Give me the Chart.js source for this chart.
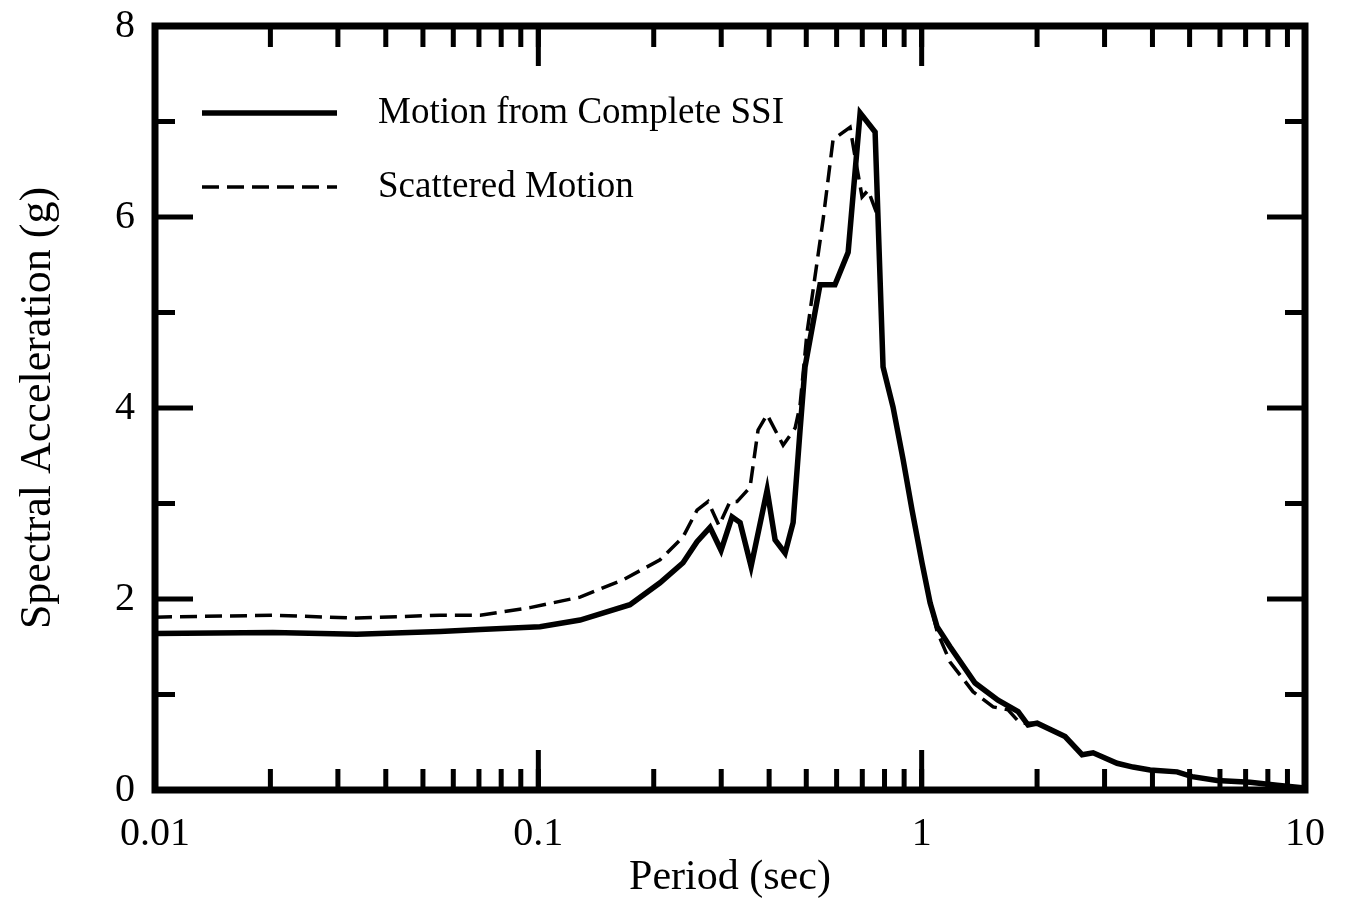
<!DOCTYPE html>
<html>
<head>
<meta charset="utf-8">
<script src="https://cdn.jsdelivr.net/npm/chart.js@4"></script>
<style>
  html, body { margin: 0; padding: 0; background: #ffffff; }
  canvas { display: block; }
</style>
</head>
<body>
<canvas id="chart" width="1346" height="905"></canvas>
<script>
// periods (sec) and spectral acceleration (g)
const solidPeriod = [0.01, 0.0203, 0.0336, 0.0554, 0.0705, 0.101, 0.1285, 0.1734, 0.2077, 0.2385,
  0.2594, 0.2805, 0.2997, 0.3201, 0.336, 0.3589, 0.3952, 0.4146, 0.4403, 0.462,
  0.4817, 0.4963, 0.543, 0.594, 0.643, 0.691, 0.756, 0.793, 0.842, 0.8945,
  0.944, 1.002, 1.052, 1.097, 1.186, 1.378, 1.582, 1.785, 1.895, 2.001,
  2.367, 2.621, 2.801, 3.234, 3.56, 3.944, 4.637, 5.077, 5.899, 7.193, 8.456, 10];
const solidSa = [1.64, 1.65, 1.63, 1.66, 1.68, 1.71, 1.78, 1.94, 2.17, 2.38,
  2.60, 2.75, 2.51, 2.86, 2.80, 2.34, 3.14, 2.62, 2.48, 2.80,
  3.77, 4.43, 5.29, 5.29, 5.63, 7.09, 6.89, 4.43, 4.01, 3.46,
  2.93, 2.38, 1.96, 1.71, 1.50, 1.12, 0.94, 0.82, 0.68, 0.70,
  0.56, 0.37, 0.39, 0.28, 0.24, 0.21, 0.19, 0.14, 0.10, 0.08, 0.05, 0.02];

const scatPeriod = [0.01, 0.0203, 0.0336, 0.0554, 0.0705, 0.0951, 0.1285, 0.1663, 0.2077, 0.2385,
  0.2594, 0.2772, 0.296, 0.3163, 0.3299, 0.3567, 0.3743, 0.3952, 0.4351, 0.4676,
  0.4817, 0.5023, 0.5531, 0.5873, 0.6504, 0.6703, 0.6991, 0.7248, 0.77, 0.793,
  0.842, 0.8945, 0.944, 1.002, 1.052, 1.097, 1.186, 1.361, 1.536, 1.68, 1.806, 2.001];
const scatSa = [1.81, 1.83, 1.80, 1.83, 1.83, 1.91, 2.02, 2.20, 2.41, 2.65,
  2.93, 3.02, 2.77, 3.02, 3.02, 3.17, 3.77, 3.93, 3.61, 3.79,
  4.03, 4.79, 5.97, 6.81, 6.94, 6.63, 6.21, 6.28, 6.0, 4.43,
  4.01, 3.46, 2.93, 2.38, 1.96, 1.66, 1.34, 1.03, 0.87, 0.84, 0.70, 0.70];

const seriesNames = ["Motion from Complete SSI", "Scattered Motion"];
const xTickValues = [0.01, 0.1, 1, 10];
const yTickValues = [0, 2, 4, 6, 8];

const FONT = "'Liberation Serif', 'Times New Roman', serif";
const toPoints = (xs, ys) => xs.map((x, i) => ({ x, y: ys[i] }));

// frame, inward ticks on all four sides, and the legend inside the plot
const framePlugin = {
  id: "frame",
  afterDatasetsDraw(chart) {
    const { ctx, chartArea: a, scales } = chart;
    const xs = scales.x, ys = scales.y;
    ctx.save();
    ctx.strokeStyle = "#000";
    ctx.lineCap = "butt";

    ctx.lineWidth = 5;
    for (let d = 0.01; d < 10; d *= 10) {
      for (let m = 1; m <= 10; m++) {
        const v = d * m;
        if (v <= 0.0100001 || v >= 9.9999) continue;
        const px = xs.getPixelForValue(v);
        const len = m === 10 ? 40 : 21;
        ctx.beginPath();
        ctx.moveTo(px, a.bottom); ctx.lineTo(px, a.bottom - len);
        ctx.moveTo(px, a.top); ctx.lineTo(px, a.top + len);
        ctx.stroke();
      }
    }
    for (let v = 1; v < 8; v++) {
      const py = ys.getPixelForValue(v);
      const len = v % 2 === 0 ? 38 : 20;
      ctx.beginPath();
      ctx.moveTo(a.left, py); ctx.lineTo(a.left + len, py);
      ctx.moveTo(a.right, py); ctx.lineTo(a.right - len, py);
      ctx.stroke();
    }

    ctx.lineWidth = 7;
    ctx.strokeRect(a.left, a.top, a.right - a.left, a.bottom - a.top);

    // legend
    const rows = [113, 187];
    chart.data.datasets.forEach((ds) => {
      const y = rows[ds.legendRow];
      ctx.beginPath();
      ctx.lineWidth = ds.borderWidth;
      ctx.setLineDash(ds.borderDash || []);
      ctx.moveTo(202, y); ctx.lineTo(337, y);
      ctx.stroke();
      ctx.setLineDash([]);
      ctx.fillStyle = "#000";
      ctx.font = "37px " + FONT;
      ctx.textBaseline = "middle";
      ctx.textAlign = "left";
      ctx.fillText(ds.label, 378, y);
    });
    ctx.restore();
  },
};

Chart.defaults.font.family = FONT;
Chart.defaults.color = "#000";

new Chart(document.getElementById("chart"), {
  type: "scatter",
  data: {
    datasets: [
      {
        label: seriesNames[1],
        legendRow: 1,
        data: toPoints(scatPeriod, scatSa),
        showLine: true,
        borderColor: "#000",
        borderWidth: 3.5,
        borderDash: [17, 8],
        pointRadius: 0,
        tension: 0,
      },
      {
        label: seriesNames[0],
        legendRow: 0,
        data: toPoints(solidPeriod, solidSa),
        showLine: true,
        borderColor: "#000",
        borderWidth: 5.5,
        pointRadius: 0,
        tension: 0,
      },
    ],
  },
  options: {
    responsive: false,
    animation: false,
    layout: { padding: { left: 0, top: 26, right: 41, bottom: 0 } },
    plugins: { legend: { display: false }, tooltip: { enabled: false } },
    scales: {
      x: {
        type: "logarithmic",
        min: 0.01,
        max: 10,
        afterBuildTicks: (scale) => {
          scale.ticks = xTickValues.map((v) => ({ value: v }));
        },
        afterFit: (scale) => {
          scale.height = 115;
          scale.paddingLeft = 0;
          scale.paddingRight = 0;
        },
        ticks: {
          autoSkip: false,
          maxRotation: 0,
          padding: 20,
          font: { size: 40 },
          callback: (v) => String(v),
        },
        grid: { display: false, drawTicks: false },
        border: { display: false },
        title: {
          display: true,
          text: "Period (sec)",
          font: { size: 42 },
          padding: { top: 0, bottom: 2 },
        },
      },
      y: {
        type: "linear",
        min: 0,
        max: 8,
        afterBuildTicks: (scale) => {
          scale.ticks = yTickValues.map((v) => ({ value: v }));
        },
        afterFit: (scale) => {
          scale.width = 155;
          scale.paddingTop = 0;
          scale.paddingBottom = 0;
        },
        ticks: {
          padding: 20,
          font: { size: 40 },
        },
        grid: { display: false, drawTicks: false },
        border: { display: false },
        title: {
          display: true,
          text: "Spectral Acceleration (g)",
          font: { size: 44 },
          padding: { top: 12, bottom: 0 },
        },
      },
    },
  },
  plugins: [framePlugin],
});
</script>
</body>
</html>
